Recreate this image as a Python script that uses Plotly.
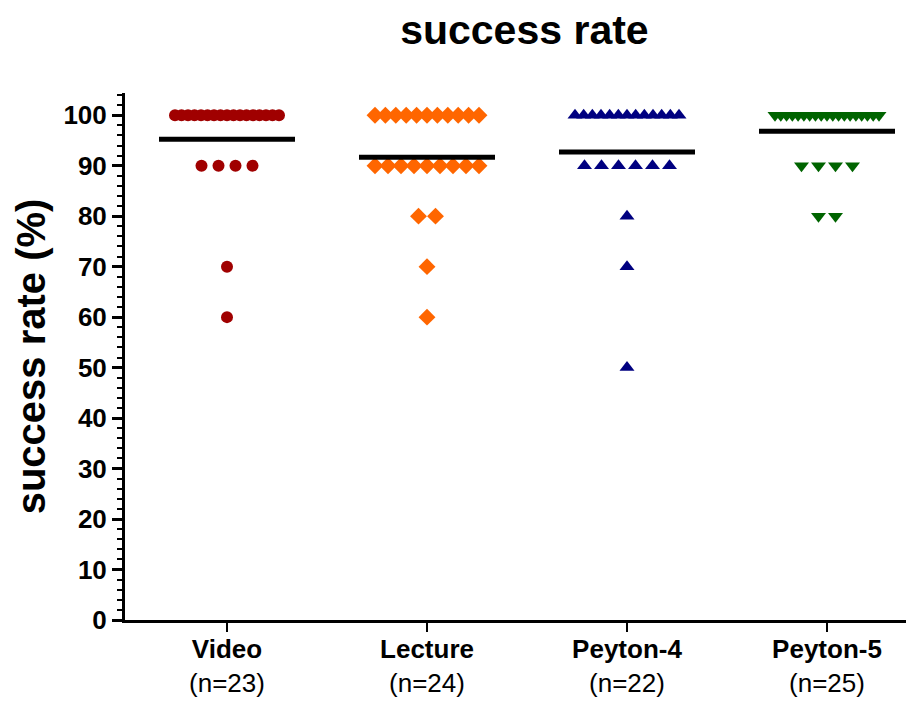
import plotly.graph_objects as go

categories = ["Video", "Lecture", "Peyton-4", "Peyton-5"]
n_labels = ["(n=23)", "(n=24)", "(n=22)", "(n=25)"]
colors = ["#A00000", "#FF6600", "#000080", "#006400"]
symbols = ["circle", "diamond", "triangle-up", "triangle-down"]

# success rate values (%) per group
video = [100]*17 + [90]*4 + [70, 60]
lecture = [100]*11 + [90]*9 + [80, 80, 70, 60]
peyton4 = [100]*13 + [90]*6 + [80, 70, 50]
peyton5 = [100]*19 + [90]*4 + [80, 80]
groups = [video, lecture, peyton4, peyton5]

fig = go.Figure()

STEP = 0.085      # preferred horizontal spacing between equal values (category units)
MAXSPAN = 0.52    # maximal width of a row

for i, vals in enumerate(groups):
    xs, ys = [], []
    for v in sorted(set(vals), reverse=True):
        k = vals.count(v)
        step = STEP if k < 2 else min(STEP, MAXSPAN / (k - 1))
        for j in range(k):
            xs.append(i + (j - (k - 1) / 2) * step)
            ys.append(v)
    fig.add_trace(go.Scatter(
        x=xs, y=ys, mode="markers",
        marker=dict(symbol=symbols[i], color=colors[i], size=12 if symbols[i] == "circle" else 13,
                    line=dict(width=0)),
        showlegend=False, hoverinfo="y"))
    mean = sum(vals) / len(vals)
    fig.add_trace(go.Scatter(
        x=[i - 0.34, i + 0.34], y=[mean, mean], mode="lines",
        line=dict(color="black", width=5), showlegend=False, hoverinfo="y"))

fig.update_layout(
    width=914, height=702,
    paper_bgcolor="white", plot_bgcolor="white",
    margin=dict(l=117, r=10, t=85, b=90),
    title=dict(text="<b>success rate</b>", x=0.565, xanchor="center", y=0.969, yanchor="middle",
               font=dict(family="Liberation Sans, Arial", size=41, color="black")),
    font=dict(family="Liberation Sans, Arial", color="black"),
)

fig.update_xaxes(
    range=[-0.51, 3.425],
    tickmode="array", tickvals=[0, 1, 2, 3],
    ticktext=[f"<b>{c}</b><br>{n}" for c, n in zip(categories, n_labels)],
    tickfont=dict(size=26, color="black"),
    ticklabelstandoff=-5,
    showline=True, linecolor="black", linewidth=3,
    ticks="outside", ticklen=9, tickwidth=2, tickcolor="black",
    showgrid=False, zeroline=False, automargin=False,
)

fig.update_yaxes(
    range=[0, 104.4],
    tickmode="linear", tick0=0, dtick=10,
    tickfont=dict(size=26, color="black"),
    tickprefix="<b>", ticksuffix="</b>",
    showline=True, linecolor="black", linewidth=3,
    ticks="outside", ticklen=10, tickwidth=3, tickcolor="black",
    minor=dict(dtick=2, ticks="outside", ticklen=5, tickwidth=2, tickcolor="black"),
    showgrid=False, zeroline=False, automargin=False,
    title=dict(text="<b>success rate (%)</b>", font=dict(size=40, color="black"), standoff=6),
)

fig.write_html("out.html")
